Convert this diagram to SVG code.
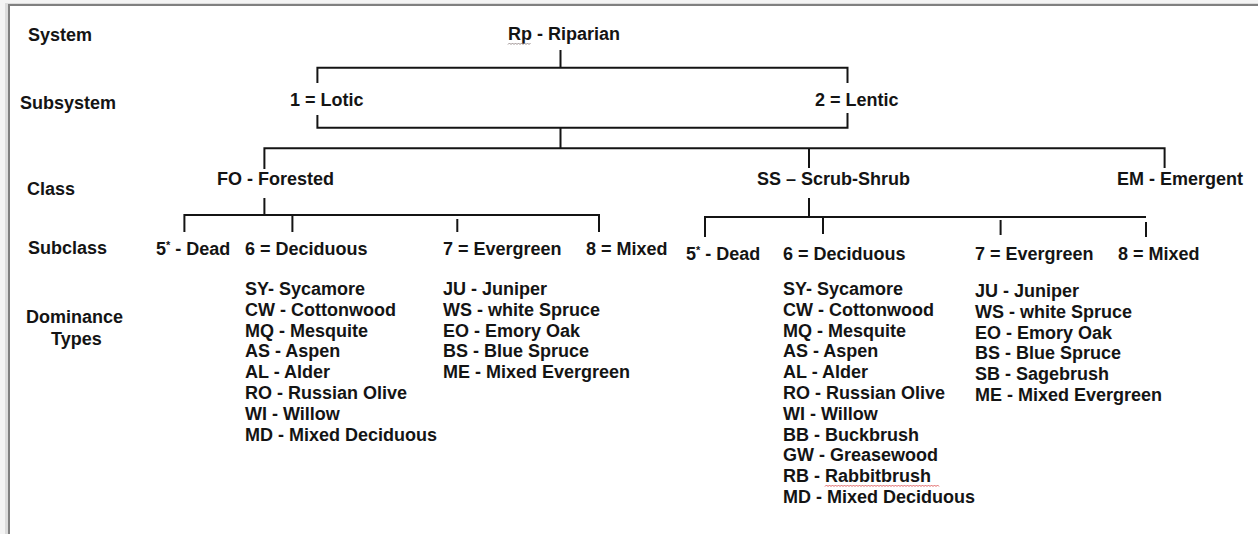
<svg xmlns="http://www.w3.org/2000/svg" width="1258" height="534" viewBox="0 0 1258 534">
<style>
.t{font-family:"Liberation Sans",Arial,sans-serif;font-size:18px;font-weight:bold;fill:#141414}
.c{stroke:#141414;stroke-width:2;fill:none;stroke-linecap:butt}
.sup{font-size:11px}
.sq{fill:none;stroke-width:1}
</style>
<rect x="0" y="0" width="1258" height="534" fill="#f4f4f4"/>
<rect x="5" y="3" width="1253" height="531" fill="#dcdcdc"/>
<rect x="10" y="6" width="1248" height="528" fill="#ffffff"/>
<path d="M9 534V5H1258" stroke="#808080" stroke-width="2" fill="none"/>

<g id="labels">
<text class="t" x="28" y="40.5">System</text>
<text class="t" x="20" y="108.5">Subsystem</text>
<text class="t" x="27" y="195">Class</text>
<text class="t" x="28" y="254">Subclass</text>
<text class="t" x="26" y="323">Dominance</text>
<text class="t" x="51" y="345">Types</text>
</g>

<g id="connectors">
<path class="c" d="M560.5 50V67.7M317.4 67.7H847.5M317.4 66.7V83M317.4 115V128.7M847.5 66.7V83M847.5 113V128.7M317.4 127.7H847.5M560.5 127.7V148.3"/>
<path class="c" d="M264.4 148.3H1164.6M264.4 147.3V169M809 147.3V168M1164.6 147.3V168"/>
<path class="c" d="M264.4 198V215M184.4 215H599M184.4 214V232M292.4 214V232M457.3 219V232M599 214V232"/>
<path class="c" d="M809 198V217M705 217H1146M705 216V237M823 216V234M1000.6 220V235M1146 222V237"/>
</g>

<g id="node-riparian">
<text class="t" x="508" y="40">Rp - Riparian</text>
<path class="sq" stroke="#9a8f8f" d="M508 44.5l1.5-1.5 1.5 1.5 1.5-1.5 1.5 1.5 1.5-1.5 1.5 1.5 1.5-1.5 1.5 1.5 1.5-1.5 1.5 1.5 1.5-1.5 1.5 1.5 1.5-1.5 1.5 1.5 1.5-1.5"/>
</g>
<g id="node-lotic"><text class="t" x="290" y="106">1 = Lotic</text></g>
<g id="node-lentic"><text class="t" x="815" y="106">2 = Lentic</text></g>

<g id="node-forested"><text class="t" x="217" y="185">FO - Forested</text></g>
<g id="node-scrubshrub"><text class="t" x="757" y="185">SS – Scrub-Shrub</text></g>
<g id="node-emergent"><text class="t" x="1117" y="185">EM - Emergent</text></g>

<g id="node-fo-dead"><text class="t" x="156" y="255">5<tspan class="sup" dy="-6">*</tspan><tspan dy="6"> - Dead</tspan></text></g>
<g id="node-fo-deciduous">
<text class="t" x="245" y="255">6 = Deciduous</text>
<text class="t" x="245" y="295">SY- Sycamore</text>
<text class="t" x="245" y="315.8">CW - Cottonwood</text>
<text class="t" x="245" y="336.6">MQ - Mesquite</text>
<text class="t" x="245" y="357.4">AS - Aspen</text>
<text class="t" x="245" y="378.2">AL - Alder</text>
<text class="t" x="245" y="399">RO - Russian Olive</text>
<text class="t" x="245" y="419.8">WI - Willow</text>
<text class="t" x="245" y="440.6">MD - Mixed Deciduous</text>
</g>
<g id="node-fo-evergreen">
<text class="t" x="443" y="255">7 = Evergreen</text>
<text class="t" x="443" y="295">JU - Juniper</text>
<text class="t" x="443" y="315.8">WS - white Spruce</text>
<text class="t" x="443" y="336.6">EO - Emory Oak</text>
<text class="t" x="443" y="357.4">BS - Blue Spruce</text>
<text class="t" x="443" y="378.2">ME - Mixed Evergreen</text>
</g>
<g id="node-fo-mixed"><text class="t" x="586" y="255">8 = Mixed</text></g>

<g id="node-ss-dead"><text class="t" x="686" y="260">5<tspan class="sup" dy="-6">*</tspan><tspan dy="6"> - Dead</tspan></text></g>
<g id="node-ss-deciduous">
<text class="t" x="783" y="260">6 = Deciduous</text>
<text class="t" x="783" y="295">SY- Sycamore</text>
<text class="t" x="783" y="315.8">CW - Cottonwood</text>
<text class="t" x="783" y="336.6">MQ - Mesquite</text>
<text class="t" x="783" y="357.4">AS - Aspen</text>
<text class="t" x="783" y="378.2">AL - Alder</text>
<text class="t" x="783" y="399">RO - Russian Olive</text>
<text class="t" x="783" y="419.8">WI - Willow</text>
<text class="t" x="783" y="440.6">BB - Buckbrush</text>
<text class="t" x="783" y="461.4">GW - Greasewood</text>
<text class="t" x="783" y="482.2">RB - Rabbitbrush</text>
<path class="sq" stroke="#e06060" d="M825 486.5l1.5-1.5 1.5 1.5 1.5-1.5 1.5 1.5 1.5-1.5 1.5 1.5 1.5-1.5 1.5 1.5 1.5-1.5 1.5 1.5 1.5-1.5 1.5 1.5 1.5-1.5 1.5 1.5 1.5-1.5 1.5 1.5 1.5-1.5 1.5 1.5 1.5-1.5 1.5 1.5 1.5-1.5 1.5 1.5 1.5-1.5 1.5 1.5 1.5-1.5 1.5 1.5 1.5-1.5 1.5 1.5 1.5-1.5 1.5 1.5 1.5-1.5 1.5 1.5 1.5-1.5 1.5 1.5 1.5-1.5 1.5 1.5 1.5-1.5 1.5 1.5 1.5-1.5 1.5 1.5 1.5-1.5 1.5 1.5 1.5-1.5 1.5 1.5 1.5-1.5 1.5 1.5 1.5-1.5 1.5 1.5 1.5-1.5 1.5 1.5 1.5-1.5 1.5 1.5 1.5-1.5 1.5 1.5 1.5-1.5 1.5 1.5 1.5-1.5 1.5 1.5 1.5-1.5 1.5 1.5 1.5-1.5 1.5 1.5 1.5-1.5 1.5 1.5 1.5-1.5 1.5 1.5 1.5-1.5 1.5 1.5 1.5-1.5 1.5 1.5 1.5-1.5 1.5 1.5 1.5-1.5 1.5 1.5 1.5-1.5 1.5 1.5"/>
<text class="t" x="783" y="503">MD - Mixed Deciduous</text>
</g>
<g id="node-ss-evergreen">
<text class="t" x="975" y="260">7 = Evergreen</text>
<text class="t" x="975" y="297">JU - Juniper</text>
<text class="t" x="975" y="317.8">WS - white Spruce</text>
<text class="t" x="975" y="338.6">EO - Emory Oak</text>
<text class="t" x="975" y="359.4">BS - Blue Spruce</text>
<text class="t" x="975" y="380.2">SB - Sagebrush</text>
<text class="t" x="975" y="401">ME - Mixed Evergreen</text>
</g>
<g id="node-ss-mixed"><text class="t" x="1118" y="260">8 = Mixed</text></g>
</svg>
